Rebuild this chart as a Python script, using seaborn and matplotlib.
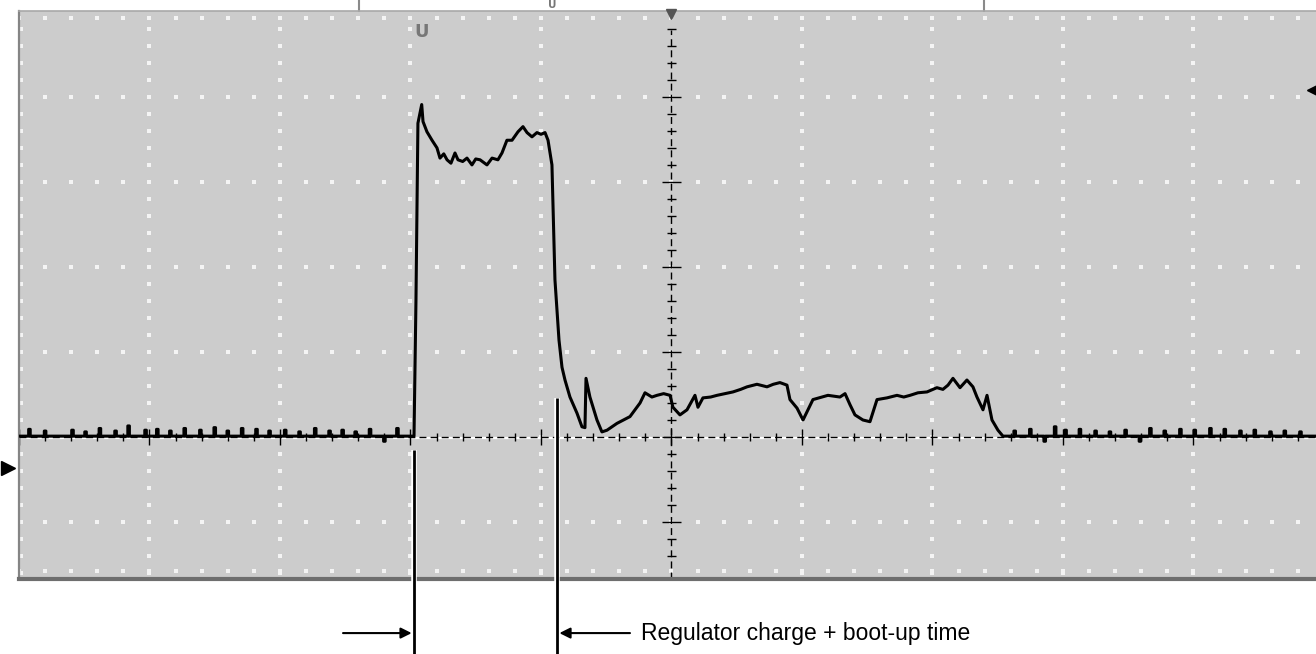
import numpy as np
import matplotlib
matplotlib.use("Agg")
import matplotlib.pyplot as plt
import seaborn as sns

# Scope trace, in screen divisions (x: time div, y: volts div, 0 = trace ground)
pulse_t = [-1.973, -1.958, -1.943, -1.914, -1.904, -1.874, -1.835, -1.797, -1.774, -1.745,
           -1.720, -1.690, -1.659, -1.636, -1.600, -1.567, -1.529, -1.500, -1.467, -1.414,
           -1.375, -1.330, -1.299, -1.261, -1.222, -1.176, -1.138, -1.107, -1.069, -1.031,
           -1.000, -0.969, -0.946, -0.916, -0.893, -0.862, -0.839, -0.816, -0.778, -0.724,
           -0.686, -0.663, -0.655, -0.625, -0.571, -0.533, -0.494, -0.418, -0.318, -0.241,
           -0.203, -0.150, -0.111, -0.060, -0.011, 0.011, 0.065, 0.119, 0.180, 0.203,
           0.241, 0.300, 0.349, 0.410, 0.471, 0.530, 0.579, 0.655, 0.732, 0.780,
           0.831, 0.885, 0.908, 0.962, 1.008, 1.084, 1.199, 1.291, 1.330, 1.368,
           1.406, 1.467, 1.521, 1.575, 1.651, 1.728, 1.780, 1.828, 1.889, 1.958,
           2.034, 2.080, 2.119, 2.157, 2.211, 2.264, 2.310, 2.341, 2.387, 2.418,
           2.456, 2.502, 2.540]
pulse_v = [0.01, 1.61, 3.69, 3.91, 3.71, 3.59, 3.49, 3.40, 3.28, 3.33,
           3.26, 3.22, 3.34, 3.26, 3.24, 3.28, 3.20, 3.27, 3.26, 3.20,
           3.28, 3.26, 3.34, 3.49, 3.49, 3.59, 3.65, 3.58, 3.53, 3.58,
           3.56, 3.58, 3.49, 3.20, 1.85, 1.14, 0.82, 0.67, 0.47, 0.28,
           0.12, 0.11, 0.69, 0.47, 0.20, 0.06, 0.08, 0.16, 0.24, 0.40,
           0.52, 0.47, 0.49, 0.51, 0.49, 0.35, 0.26, 0.32, 0.49, 0.35,
           0.46, 0.47, 0.49, 0.51, 0.53, 0.56, 0.59, 0.62, 0.59, 0.62,
           0.64, 0.61, 0.44, 0.34, 0.20, 0.44, 0.49, 0.47, 0.51, 0.38,
           0.26, 0.20, 0.18, 0.44, 0.46, 0.49, 0.47, 0.49, 0.52, 0.53,
           0.58, 0.56, 0.61, 0.69, 0.58, 0.67, 0.59, 0.47, 0.32, 0.49,
           0.20, 0.08, 0.01]

# small noise spikes riding on the ground level
left_spikes = [-4.92, -4.80, -4.59, -4.49, -4.38, -4.26, -4.16, -4.03, -3.94, -3.84,
               -3.73, -3.61, -3.50, -3.40, -3.29, -3.18, -3.08, -2.96, -2.85, -2.73,
               -2.62, -2.52, -2.42, -2.31, -2.20, -2.10]
left_heights = [0.08, 0.06, 0.07, 0.05, 0.09, 0.06, 0.12, 0.07, 0.08, 0.06,
                0.09, 0.07, 0.10, 0.06, 0.09, 0.08, 0.06, 0.07, 0.05, 0.09,
                0.06, 0.07, 0.05, 0.08, -0.06, 0.09]
right_spikes = [2.63, 2.75, 2.86, 2.94, 3.02, 3.13, 3.25, 3.36, 3.48, 3.59,
                3.67, 3.78, 3.90, 4.01, 4.13, 4.24, 4.36, 4.47, 4.59, 4.70, 4.82]
right_heights = [0.06, 0.08, -0.06, 0.11, 0.07, 0.08, 0.06, 0.05, 0.07, -0.06,
                 0.09, 0.06, 0.08, 0.07, 0.09, 0.08, 0.06, 0.07, 0.05, 0.06, 0.05]
ground = 0.01

label_text = "Regulator charge + boot-up time"
rise_t, boot_t = -1.973, -0.877


def baseline(spikes, heights):
    xs, ys = [], []
    for s, h in zip(spikes, heights):
        xs += [s - 0.02, s - 0.006, s - 0.006, s + 0.006, s + 0.006]
        ys += [ground, ground, ground + h, ground + h, ground]
    return xs, ys


lx, ly = baseline(left_spikes, left_heights)
rx, ry = baseline(right_spikes, right_heights)
trace_t = [-5.0] + lx + [-2.0] + pulse_t + rx + [4.95]
trace_v = [ground] + ly + [ground] + pulse_v + ry + [ground]

sns.set_theme(style="white")
plt.rcParams['font.family'] = ['Liberation Sans', 'DejaVu Sans']

fig = plt.figure(figsize=(13.16, 6.54), dpi=100)
ax = fig.add_axes([19 / 1316, 75 / 654, 1 - 19 / 1316, 568 / 654])
ax.set_facecolor("#cccccc")
ax.set_xlim(-5.0, 4.939)
ax.set_ylim(-1.67, 5.01)
ax.set_xticks([])
ax.set_yticks([])
ax.spines["right"].set_visible(False)
ax.spines["left"].set_color("#858585")
ax.spines["left"].set_linewidth(1.6)
ax.spines["top"].set_color("#a8a8a8")
ax.spines["top"].set_linewidth(1.2)
ax.spines["bottom"].set_color("#6e6e6e")
ax.spines["bottom"].set_linewidth(3)

# dotted graticule
dot = dict(color="#f4f4f4", marker="s", ms=2.4, ls="none", mew=0)
ys = np.arange(-1.6, 5.0, 0.2)
for gx in [-4, -3, -2, -1, 1, 2, 3, 4]:
    ax.plot(np.full_like(ys, gx), ys, **dot)
xs = np.arange(-5.0, 5.0, 0.2)
for gy in [-1, 1, 2, 3, 4]:
    ax.plot(xs, np.full_like(xs, gy), **dot)
ax.plot(xs, np.full_like(xs, 4.93), **dot)
ax.plot(xs, np.full_like(xs, -1.58), **dot)
ax.plot(np.full_like(ys, -4.985), ys, **dot)

# centre crosshair with ticks
ax.axhline(-0.015, color="white", lw=1.6)
ax.axhline(0.005, color="black", lw=1.0, ls=(0, (5, 3)))
ax.axvline(0.0, color="black", lw=1.0, ls=(0, (5, 3)), ymax=(5.01 + 1.45) / 6.68)
tx = np.arange(-5.0, 5.0, 0.2)
minor_x = [t for t in tx if abs(t - round(t)) > 1e-6]
major_x = [t for t in tx if abs(t - round(t)) < 1e-6]
ax.vlines(minor_x, -0.05, 0.05, color="black", lw=1.0)
ax.vlines(major_x, -0.09, 0.09, color="black", lw=1.0)
ty = np.arange(-1.4, 5.0, 0.2)
minor_y = [t for t in ty if abs(t - round(t)) > 1e-6]
major_y = [t for t in ty if abs(t - round(t)) < 1e-6]
ax.hlines(minor_y, -0.035, 0.035, color="black", lw=1.0)
ax.hlines(major_y, -0.07, 0.07, color="black", lw=1.0)

# trace
sns.lineplot(x=trace_t, y=trace_v, ax=ax, sort=False, estimator=None,
             color="black", lw=2.2, zorder=5)

# scope markers
ax.text(-1.912, 4.76, "U", color="#777777", fontsize=13, fontweight="heavy",
        family="DejaVu Sans", ha="center", va="center", zorder=6)
ax.text(-0.916, 5.075, "U", color="#777777", fontsize=7.5, fontweight="heavy",
        family="DejaVu Sans", ha="center", va="center", clip_on=False)
ax.plot([0.0], [4.97], marker="v", color="#555555", ms=7, clip_on=False, zorder=7)
ax.plot([-2.395, -2.395], [5.01, 5.14], color="#8a8a8a", lw=1.5, clip_on=False)
ax.plot([2.395, 2.395], [5.01, 5.14], color="#8a8a8a", lw=1.5, clip_on=False)
ax.plot([-5.085], [-0.365], marker=">", color="black", ms=10, clip_on=False)
ax.plot([4.915], [4.08], marker="<", color="black", ms=8, clip_on=False)

# annotation: cursor lines, arrows and label
for t, top in [(rise_t, -0.153), (boot_t, 0.459)]:
    ax.plot([t, t], [top, -2.56], color="white", lw=4.0, clip_on=False,
            solid_capstyle="butt", zorder=8)
    ax.plot([t, t], [top, -2.56], color="black", lw=2.0, clip_on=False,
            solid_capstyle="butt", zorder=9)
arrow = dict(arrowstyle="-|>", color="black", lw=1.5, mutation_scale=16,
             shrinkA=0, shrinkB=0)
ax.annotate("", xy=(rise_t - 0.018, -2.306), xytext=(-2.517, -2.306),
            arrowprops=arrow, annotation_clip=False)
ax.annotate("", xy=(boot_t + 0.018, -2.306), xytext=(-0.318, -2.306),
            arrowprops=arrow, annotation_clip=False)
ax.text(-0.234, -2.306, label_text, fontsize=16.5, ha="left", va="center",
        color="black", clip_on=False)

fig.savefig("out.png", dpi=100, facecolor="white")
